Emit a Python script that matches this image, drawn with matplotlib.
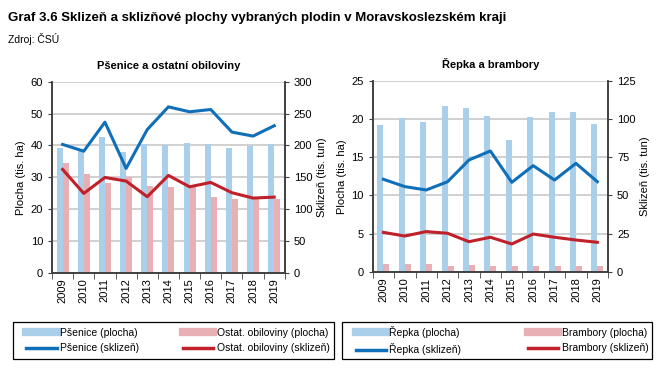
import matplotlib.pyplot as plt
from matplotlib.lines import Line2D
from matplotlib.patches import Rectangle
import numpy as np

plt.rcParams['font.family'] = ['Liberation Sans', 'DejaVu Sans']

roky = ["2009", "2010", "2011", "2012", "2013", "2014", "2015", "2016", "2017", "2018", "2019"]

# Psenice a ostatni obiloviny
psenice_plocha = [39.2, 38.5, 42.5, 38.0, 40.6, 40.1, 40.7, 40.3, 39.3, 39.8, 40.3]
ostat_plocha = [34.6, 30.9, 28.1, 30.0, 27.3, 27.0, 27.5, 23.9, 23.2, 23.3, 23.1]
psenice_sklizen = [201.6, 191.0, 236.6, 163.9, 225.0, 260.7, 252.9, 256.5, 221.0, 214.7, 231.0]
ostat_sklizen = [162.3, 124.6, 149.7, 144.0, 119.4, 152.9, 135.0, 141.9, 125.7, 117.3, 118.8]

# Repka a brambory
repka_plocha = [19.2, 20.1, 19.6, 21.7, 21.5, 20.4, 17.3, 20.2, 20.9, 20.95, 19.4]
brambory_plocha = [1.09, 1.0, 1.0, 0.83, 0.87, 0.83, 0.83, 0.83, 0.78, 0.78, 0.83]
repka_sklizen = [60.6, 55.8, 53.6, 59.0, 73.2, 79.1, 58.6, 69.5, 60.1, 71.0, 59.0]
brambory_sklizen = [25.9, 23.5, 26.4, 25.3, 19.8, 22.7, 18.3, 24.8, 22.7, 20.9, 19.4]

# barvy
c_bar1 = "#A9CFEA"
c_bar2 = "#E8B0B4"
c_line1 = "#0F6FB8"
c_line2 = "#C0202A"
c_spine = "#404040"

fig = plt.figure(figsize=(6.67, 3.75), dpi=100)

fig.text(0.012, 0.952, "Graf 3.6 Sklizeň a sklizňové plochy vybraných plodin v Moravskoslezském kraji",
         fontsize=9.5, fontweight="bold", va="center")
fig.text(0.012, 0.897, "Zdroj: ČSÚ", fontsize=7.5, va="center")


def panel(rect, title, bar1, bar2, line1, line2, ylim1, ystep1, ylim2, ystep2):
    ax = fig.add_axes(rect)
    x = np.arange(len(roky))
    w = 0.28
    ax.bar(x - w / 2, bar1, width=w, color=c_bar1, zorder=2)
    ax.bar(x + w / 2, bar2, width=w, color=c_bar2, zorder=2)
    ax.set_ylim(0, ylim1)
    ax.set_yticks(np.arange(0, ylim1 + 0.01, ystep1))
    ax.set_xlim(-0.5, len(roky) - 0.5)
    ax.set_xticks(x, roky, rotation=90)
    ax.set_xticks(np.arange(-0.5, len(roky)), minor=True)
    ax.tick_params(axis="x", which="major", length=0, pad=4, labelsize=8)
    ax.tick_params(axis="x", which="minor", length=4, color=c_spine)
    ax.tick_params(axis="y", length=3, color=c_spine, labelsize=8)
    ax.yaxis.grid(True, color="#C8C8C8", linewidth=1.2, zorder=0)
    ax.set_axisbelow(True)
    ax.set_ylabel("Plocha (tis. ha)", fontsize=8, labelpad=3)
    ax.spines["top"].set_visible(False)
    for s in ["left", "right", "bottom"]:
        ax.spines[s].set_color(c_spine)
        ax.spines[s].set_linewidth(1.2)

    ax2 = ax.twinx()
    ax2.plot(x, line1, color=c_line1, linewidth=2.2, zorder=3)
    ax2.plot(x, line2, color=c_line2, linewidth=2.2, zorder=3)
    ax2.set_ylim(0, ylim2)
    ax2.set_yticks(np.arange(0, ylim2 + 0.01, ystep2))
    ax2.tick_params(axis="y", length=3, color=c_spine, labelsize=8)
    ax2.set_ylabel("Sklizeň (tis. tun)", fontsize=8, labelpad=3)
    ax2.spines["top"].set_visible(False)
    for s in ["left", "right", "bottom"]:
        ax2.spines[s].set_color(c_spine)
        ax2.spines[s].set_linewidth(1.2)
    ax.set_title(title, fontsize=8, fontweight="bold", pad=9)
    return ax


panel([0.078, 0.2728, 0.349, 0.509], "Pšenice a ostatní obiloviny",
      psenice_plocha, ostat_plocha, psenice_sklizen, ostat_sklizen, 60, 10, 300, 50)
panel([0.5588, 0.2747, 0.3528, 0.510], "Řepka a brambory",
      repka_plocha, brambory_plocha, repka_sklizen, brambory_sklizen, 25, 5, 125, 25)


def legenda(bbox, n1, n2):
    h = [Line2D([], [], color=c_bar1, linewidth=6),
         Line2D([], [], color=c_line1, linewidth=2.5),
         Line2D([], [], color=c_bar2, linewidth=6),
         Line2D([], [], color=c_line2, linewidth=2.5)]
    labels = [n1 + " (plocha)", n1 + " (sklizeň)", n2 + " (plocha)", n2 + " (sklizeň)"]
    x0, y0, w, hh = bbox
    fig.patches.append(Rectangle((x0, y0), w, hh, transform=fig.transFigure,
                                 facecolor="white", edgecolor="black", linewidth=0.9))
    fig.legend(h, labels, ncol=2, loc="center", bbox_to_anchor=(x0 + 0.02, y0, w - 0.026, hh),
               mode="expand", fontsize=7.5, frameon=False,
               handlelength=2.9, handletextpad=0.35, labelspacing=0.55,
               borderpad=0, borderaxespad=0)


legenda((0.0195, 0.0427, 0.481, 0.0987), "Pšenice", "Ostat. obiloviny")
legenda((0.513, 0.0427, 0.465, 0.0987), "Řepka", "Brambory")

fig.savefig("out.png", dpi=100)
